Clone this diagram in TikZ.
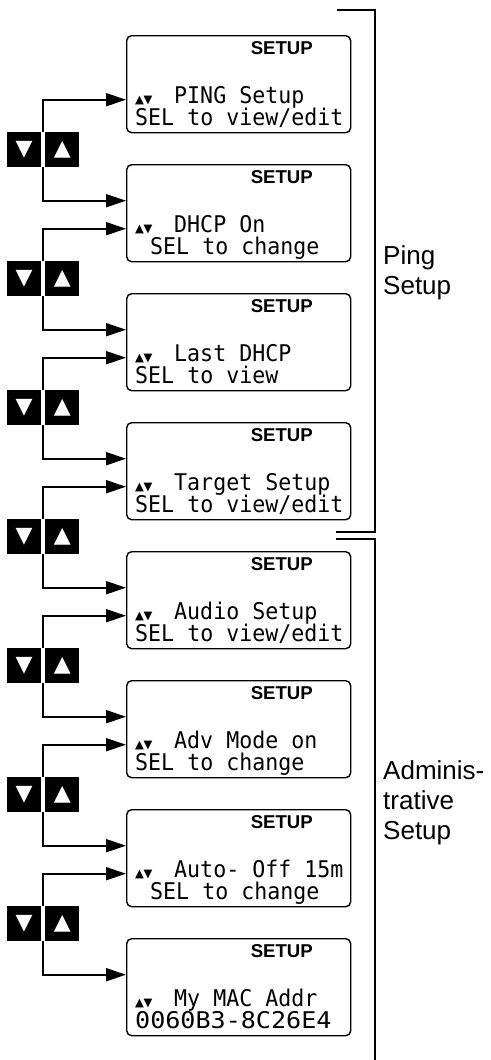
\documentclass[tikz,border=0pt]{standalone}
\usepackage{fontspec}
\setmainfont{Liberation Sans}
\newfontfamily\lcdfont{DejaVu Sans Mono}[FakeStretch=0.94]
\newfontfamily\symfont{DejaVu Sans}
\usetikzlibrary{arrows.meta}
\usetikzlibrary{positioning}
\newcommand{\updn}{\makebox[26pt][l]{\symfont\fontsize{11.5}{11.5}\selectfont ▲\hspace{-0.5pt}▼}}
\tikzset{
  screen/.style={draw, line width=1.4pt, rounded corners=5pt, minimum width=224pt, minimum height=97pt, inner sep=0pt, anchor=north west},
  title/.style={anchor=base east, inner sep=0pt, font=\bfseries\fontsize{18.6}{20}\selectfont},
  lcd/.style={anchor=base west, inner sep=0pt, font=\lcdfont\fontsize{23}{24}\selectfont},
  key/.style={fill=black, text=white, minimum width=34pt, minimum height=35pt, inner sep=0pt, font=\symfont\fontsize{22}{22}\selectfont},
  link/.style={line width=2pt, -{Triangle[length=20pt,width=13pt]}},
  bracket/.style={line width=2.4pt},
  group/.style={anchor=west, align=left, inner sep=0pt, font=\fontsize{26}{30}\selectfont}
}

\begin{document}
\begin{tikzpicture}[x=1pt,y=-1pt]
    \useasboundingbox (0,0) rectangle (490,1060);
    \node[screen] (s1) at (126,  35) {};
    \node[title]  (h1) at (313,  54.5) {SETUP};
    \node[lcd]    (a1) at (135, 103) {\updn\ PING Setup};
    \node[lcd]    (b1) at (135, 125) {SEL to view/edit};
    \node[screen] (s2) at (126, 164) {};
    \node[title]  (h2) at (313, 183.5) {SETUP};
    \node[lcd]    (a2) at (135, 232) {\updn\ DHCP On};
    \node[lcd]    (b2) at (150, 254) {SEL to change};
    \node[screen] (s3) at (126, 293) {};
    \node[title]  (h3) at (313, 312.5) {SETUP};
    \node[lcd]    (a3) at (135, 361) {\updn\ Last DHCP};
    \node[lcd]    (b3) at (135, 383) {SEL to view};
    \node[screen] (s4) at (126, 422) {};
    \node[title]  (h4) at (313, 441.5) {SETUP};
    \node[lcd]    (a4) at (135, 490) {\updn\ Target Setup};
    \node[lcd]    (b4) at (135, 512) {SEL to view/edit};
    \node[screen] (s5) at (126, 551) {};
    \node[title]  (h5) at (313, 570.5) {SETUP};
    \node[lcd]    (a5) at (135, 619) {\updn\ Audio Setup};
    \node[lcd]    (b5) at (135, 641) {SEL to view/edit};
    \node[screen] (s6) at (126, 680) {};
    \node[title]  (h6) at (313, 699.5) {SETUP};
    \node[lcd]    (a6) at (135, 748) {\updn\ Adv Mode on};
    \node[lcd]    (b6) at (135, 770) {SEL to change};
    \node[screen] (s7) at (126, 809) {};
    \node[title]  (h7) at (313, 828.5) {SETUP};
    \node[lcd]    (a7) at (135, 877) {\updn\ Auto- Off 15m};
    \node[lcd]    (b7) at (150, 899) {SEL to change};
    \node[screen] (s8) at (126, 938) {};
    \node[title]  (h8) at (313, 957.5) {SETUP};
    \node[lcd]    (a8) at (135,1006) {\updn\ My MAC Addr};
    \node[lcd]    (b8) at (135,1028) {\scalebox{1.16}[1]{0060B3-8C26E4}};

    \node[key] (d1) at (24, 149.5) {▼}; \node[key, right=4pt of d1] (u1) {▲};
    \node[key] (d2) at (24, 278.5) {▼}; \node[key, right=4pt of d2] (u2) {▲};
    \node[key] (d3) at (24, 407.5) {▼}; \node[key, right=4pt of d3] (u3) {▲};
    \node[key] (d4) at (24, 536.5) {▼}; \node[key, right=4pt of d4] (u4) {▲};
    \node[key] (d5) at (24, 665.5) {▼}; \node[key, right=4pt of d5] (u5) {▲};
    \node[key] (d6) at (24, 794.5) {▼}; \node[key, right=4pt of d6] (u6) {▲};
    \node[key] (d7) at (24, 923.5) {▼}; \node[key, right=4pt of d7] (u7) {▲};

    \draw[link] ([xshift=2pt]d1.north east) |- ([yshift=-15.5pt]s1.west);
    \draw[link] ([xshift=2pt]d1.south east) |- ([yshift=12.5pt]s2.west);
    \draw[link] ([xshift=2pt]d2.north east) |- ([yshift=-15.5pt]s2.west);
    \draw[link] ([xshift=2pt]d2.south east) |- ([yshift=12.5pt]s3.west);
    \draw[link] ([xshift=2pt]d3.north east) |- ([yshift=-15.5pt]s3.west);
    \draw[link] ([xshift=2pt]d3.south east) |- ([yshift=12.5pt]s4.west);
    \draw[link] ([xshift=2pt]d4.north east) |- ([yshift=-15.5pt]s4.west);
    \draw[link] ([xshift=2pt]d4.south east) |- ([yshift=12.5pt]s5.west);
    \draw[link] ([xshift=2pt]d5.north east) |- ([yshift=-15.5pt]s5.west);
    \draw[link] ([xshift=2pt]d5.south east) |- ([yshift=12.5pt]s6.west);
    \draw[link] ([xshift=2pt]d6.north east) |- ([yshift=-15.5pt]s6.west);
    \draw[link] ([xshift=2pt]d6.south east) |- ([yshift=12.5pt]s7.west);
    \draw[link] ([xshift=2pt]d7.north east) |- ([yshift=-15.5pt]s7.west);
    \draw[link] ([xshift=2pt]d7.south east) |- ([yshift=12.5pt]s8.west);

    \draw[bracket] (337, 10) -| (375, 532) -- (336, 532);
    \draw[bracket] (336,539) -| (375,1060);
    \node[group] (ping)  at (383, 273) {Ping\\Setup};
    \node[group] (admin) at (383, 803) {Adminis-\\trative\\Setup};
\end{tikzpicture}
\end{document}
